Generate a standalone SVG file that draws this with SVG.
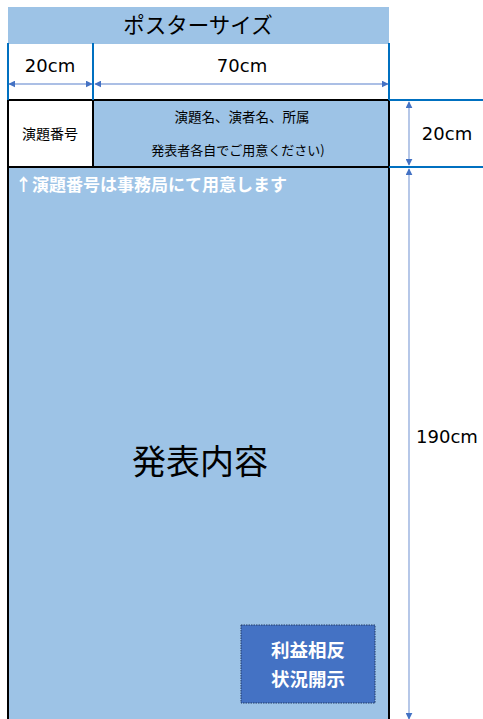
<svg xmlns="http://www.w3.org/2000/svg" width="483" height="719" viewBox="0 0 483 719">
<style>
text{font-family:"Noto Sans CJK JP","Noto Sans",sans-serif;fill:#000}
.cm{font-family:"DejaVu Sans","Noto Sans",sans-serif;font-size:18px}
.dim{stroke:#8FAADC;stroke-width:1.3;fill:none}
.blue{stroke:#0070C0;stroke-width:2;fill:none}
.blk{stroke:#000;stroke-width:2;fill:none}
.w{fill:#fff;font-weight:bold}
</style>
<defs>
<marker id="ah" viewBox="0 0 10 10" refX="9" refY="5" markerWidth="7" markerHeight="7" orient="auto-start-reverse" markerUnits="userSpaceOnUse">
<path d="M0,0 L10,5 L0,10 z" fill="#4472C4"/>
</marker>
</defs>
<rect width="483" height="719" fill="#fff"/>
<g id="title">
<rect x="8" y="7" width="381" height="37" fill="#9DC3E6"/>
<text x="198" y="33" font-size="21.5" text-anchor="middle">ポスターサイズ</text>
</g>
<g id="number-cell">
<rect x="8" y="100" width="85" height="67" fill="#fff"/>
<text x="50" y="139" font-size="14" text-anchor="middle">演題番号</text>
</g>
<g id="title-cell">
<rect x="93" y="100" width="296" height="67" fill="#9DC3E6"/>
<text x="242" y="122" font-size="13.5" text-anchor="middle">演題名、演者名、所属</text>
<text x="238" y="155" font-size="13" text-anchor="middle">発表者各自でご用意ください)</text>
</g>
<g id="content">
<rect x="8" y="167" width="381" height="552" fill="#9DC3E6"/>
<text x="15" y="191" font-size="17" class="w">↑演題番号は事務局にて用意します</text>
<text x="200" y="474" font-size="34" text-anchor="middle">発表内容</text>
</g>
<g id="coi">
<rect x="241" y="625" width="134" height="78" fill="#4472C4" stroke="#203864" stroke-width="1" stroke-dasharray="1.5,1"/>
<text x="308" y="657" font-size="18.5" text-anchor="middle" class="w">利益相反</text>
<text x="308" y="686" font-size="18.5" text-anchor="middle" class="w">状況開示</text>
</g>
<g id="borders">
<path class="blk" d="M8,100 V719 M389,100 V719 M93,100 V167 M8,100 H389 M8,167 H389"/>
<path class="blue" d="M8,43 V100 M93,43 V100 M389,43 V100 M389,100 H483 M389,167 H483"/>
</g>
<g id="labels">
<text x="50" y="72" class="cm" text-anchor="middle">20cm</text>
<text x="242" y="72" class="cm" text-anchor="middle">70cm</text>
<text x="447" y="140" class="cm" text-anchor="middle">20cm</text>
<text x="447" y="443" class="cm" text-anchor="middle">190cm</text>
</g>
<g id="connectors">
<line class="dim" x1="9" y1="84" x2="92" y2="84" marker-start="url(#ah)" marker-end="url(#ah)"/>
<line class="dim" x1="95" y1="84" x2="388" y2="84" marker-start="url(#ah)" marker-end="url(#ah)"/>
<line class="dim" x1="409" y1="102" x2="409" y2="165" marker-start="url(#ah)" marker-end="url(#ah)"/>
<line class="dim" x1="409" y1="169" x2="409" y2="719" marker-start="url(#ah)" marker-end="url(#ah)"/>
</g>
</svg>
